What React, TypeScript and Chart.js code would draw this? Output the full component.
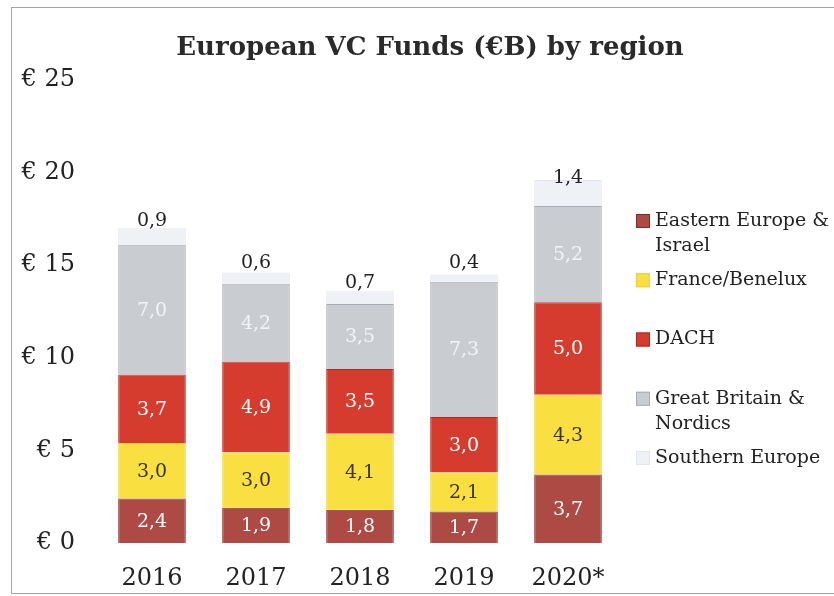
import React, { useEffect, useRef } from "react";
import { Chart, registerables } from "chart.js";

Chart.register(...registerables);

const categories = ["2016", "2017", "2018", "2019", "2020*"];
const seriesNames = [
  "Eastern Europe &\nIsrael",
  "France/Benelux",
  "DACH",
  "Great Britain &\nNordics",
  "Southern Europe",
];
const easternEurope = [2.4, 1.9, 1.8, 1.7, 3.7];
const franceBenelux = [3.0, 3.0, 4.1, 2.1, 4.3];
const dach = [3.7, 4.9, 3.5, 3.0, 5.0];
const greatBritain = [7.0, 4.2, 3.5, 7.3, 5.2];
const southernEurope = [0.9, 0.6, 0.7, 0.4, 1.4];
const yTicks = [0, 5, 10, 15, 20, 25];
const titleText = "European VC Funds (€B) by region";

const FONT = "'DejaVu Serif', serif";
const fills = ["#ad4a43", "#f9e040", "#d63c2e", "#c9ccd1", "#eef1f5"];
const borders = ["#7e2f2a", "#ead03a", "#a8291f", "#a9adb3", "#e2e6ec"];
const labelColors = ["#ffffff", "#3a3520", "#ffffff", "#f4f4f4", "#222222"];

const valueLabels = {
  id: "valueLabels",
  afterDatasetsDraw(chart: any) {
    const ctx = chart.ctx;
    ctx.save();
    ctx.font = `19px ${FONT}`;
    ctx.textAlign = "center";
    ctx.textBaseline = "middle";
    chart.data.datasets.forEach((ds: any, di: number) => {
      const meta = chart.getDatasetMeta(di);
      meta.data.forEach((el: any, i: number) => {
        const v = ds.data[i];
        const txt = v.toFixed(1).replace(".", ",");
        let y = (el.y + el.base) / 2 + 1;
        if (di === 4) y -= 16;
        ctx.fillStyle = labelColors[di];
        ctx.fillText(txt, el.x, y);
      });
    });
    ctx.restore();
  },
};

const centeredTitle = {
  id: "centeredTitle",
  afterDraw(chart: any) {
    const ctx = chart.ctx;
    ctx.save();
    ctx.font = `bold 26px ${FONT}`;
    ctx.textAlign = "center";
    ctx.textBaseline = "middle";
    ctx.fillStyle = "#2a2a2a";
    ctx.fillText(titleText, chart.width / 2, 48);
    ctx.restore();
  },
};

const sideLegend = {
  id: "sideLegend",
  afterDraw(chart: any) {
    const ctx = chart.ctx;
    const area = chart.chartArea;
    ctx.save();
    ctx.font = `19px ${FONT}`;
    ctx.textBaseline = "middle";
    ctx.textAlign = "left";
    const x0 = area.right + 16;
    const yStart = area.top + 141;
    const step = 59.25;
    chart.data.datasets.forEach((ds: any, di: number) => {
      const lines = String(ds.label).split("\n");
      const y = yStart + di * step;
      ctx.fillStyle = fills[di];
      ctx.strokeStyle = borders[di];
      ctx.lineWidth = 1;
      ctx.fillRect(x0, y - 7, 14, 14);
      ctx.strokeRect(x0 + 0.5, y - 6.5, 13, 13);
      ctx.fillStyle = "#222222";
      lines.forEach((ln, li) => {
        ctx.fillText(ln, x0 + 19, y + li * 25);
      });
    });
    ctx.restore();
  },
};

export default function App() {
  const ref = useRef<HTMLCanvasElement | null>(null);
  useEffect(() => {
    if (!ref.current) return;
    const seriesData = [easternEurope, franceBenelux, dach, greatBritain, southernEurope];
    const chart = new Chart(ref.current, {
      type: "bar",
      data: {
        labels: categories,
        datasets: seriesData.map((d, i) => ({
          label: seriesNames[i],
          data: d,
          backgroundColor: fills[i],
          borderColor: borders[i],
          borderWidth: 1,
          barPercentage: 0.65,
          categoryPercentage: 1,
        })),
      },
      options: {
        responsive: false,
        animation: false,
        layout: { padding: { left: 0, right: 240, top: 80, bottom: 4 } },
        plugins: {
          legend: { display: false },
          tooltip: { enabled: false },
          title: { display: false },
        },
        scales: {
          x: {
            stacked: true,
            grid: { display: false, drawTicks: false },
            border: { display: false },
            ticks: {
              color: "#222222",
              font: { family: FONT, size: 24 },
              padding: 21,
            },
            afterFit: (s: any) => {
              s.height = 49;
            },
          },
          y: {
            stacked: true,
            min: 0,
            max: 25,
            grid: { display: false, drawTicks: false },
            border: { display: false },
            afterBuildTicks: (s: any) => {
              s.ticks = yTicks.map((v) => ({ value: v }));
            },
            ticks: {
              color: "#222222",
              font: { family: FONT, size: 24 },
              padding: 25,
              callback: (v: any) => "€ " + v,
            },
            afterFit: (s: any) => {
              s.width = 100;
            },
          },
        },
      },
      plugins: [valueLabels, centeredTitle, sideLegend],
    });
    return () => chart.destroy();
  }, []);

  return (
    <div
      style={{
        position: "fixed",
        left: 0,
        top: 0,
        width: 834,
        height: 596,
        overflow: "hidden",
        background: "#ffffff",
      }}
    >
      <div
        style={{
          position: "absolute",
          left: 11,
          top: 7,
          width: 900,
          height: 585,
          border: "1.5px solid #a3a3a3",
        }}
      />
      <canvas
        ref={ref}
        width={860}
        height={596}
        style={{ position: "absolute", left: 0, top: 0, width: 860, height: 596 }}
      />
    </div>
  );
}
